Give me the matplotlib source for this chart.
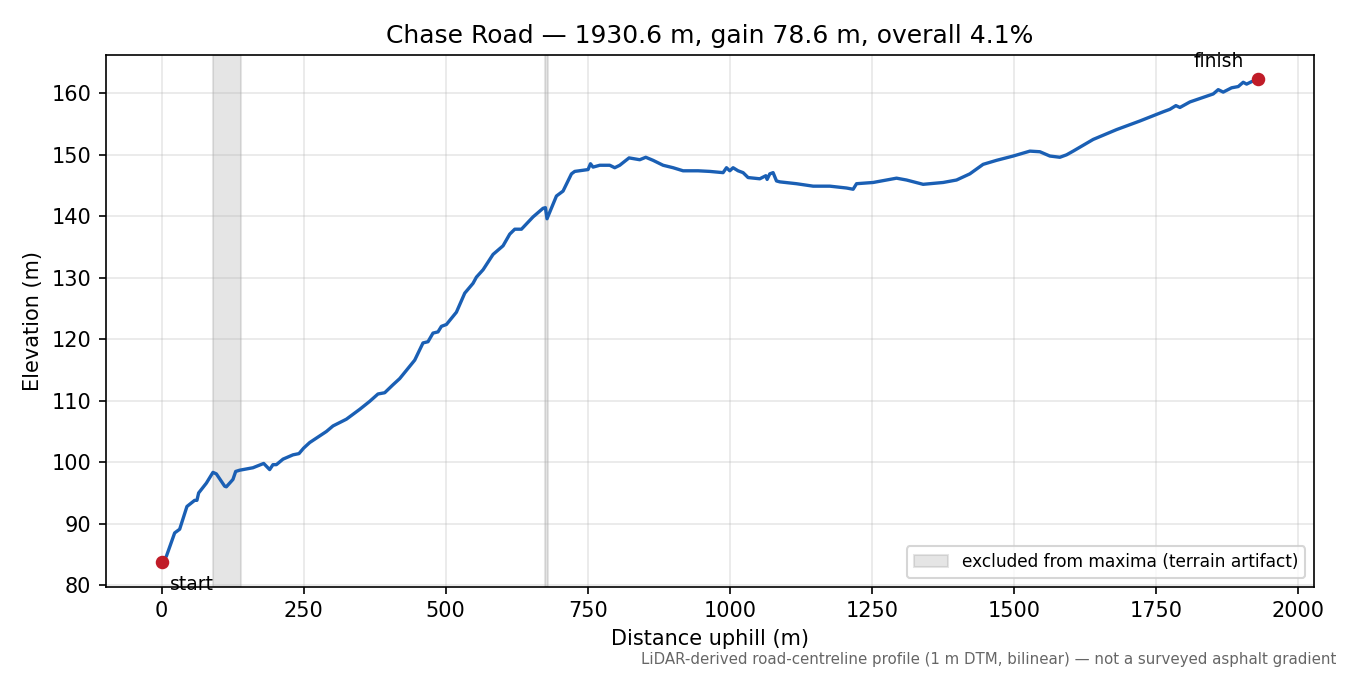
import matplotlib
matplotlib.use("Agg")
import matplotlib.pyplot as plt
import numpy as np

# profile (distance m, elevation m)
dist = [0, 8.3, 22.9, 31.7, 44.5, 58.1, 62.1, 65.1, 78.7, 90.3, 96.3, 110.9, 113.9,
        125.5, 130.3, 137.3, 160.7, 179.6, 190.1, 195.9, 201.9, 213.6, 231.2, 241.7,
        250.0, 260.6, 275.2, 290.0, 301.6, 325.2, 348.6, 366.2, 380.8, 392.6, 407.2,
        419.0, 445.4, 460.0, 468.8, 477.6, 486.4, 492.4, 501.2, 518.8, 533.5, 548.1,
        554.0, 565.7, 583.3, 600.9, 612.7, 621.5, 633.3, 653.7, 671.3, 675.5, 678.3,
        694.9, 706.5, 721.3, 727.1, 750.5, 754.8, 759.3, 771.1, 788.7, 797.5, 806.3,
        822.7, 841.5, 852.1, 865.0, 882.6, 900.2, 917.8, 944.2, 964.8, 988.2, 994.2,
        1000.0, 1005.8, 1014.6, 1023.4, 1032.2, 1052.8, 1063.4, 1065.7, 1070.4, 1076.2,
        1082.2, 1088.0, 1117.4, 1146.7, 1176.1, 1205.5, 1217.1, 1223.1, 1252.3, 1293.5,
        1311.1, 1340.3, 1375.5, 1399.1, 1422.5, 1445.9, 1469.5, 1498.8, 1528.2, 1545.8,
        1563.4, 1581.0, 1592.8, 1604.4, 1639.6, 1680.8, 1721.8, 1762.9, 1774.6, 1785.2,
        1792.3, 1809.9, 1850.9, 1859.7, 1868.5, 1883.3, 1894.9, 1903.7, 1909.7, 1918.5,
        1930.6]
elev = [83.7, 84.7, 88.5, 89.1, 92.8, 93.8, 93.8, 95.0, 96.6, 98.35, 98.1, 96.1, 96.0,
        97.2, 98.5, 98.7, 99.1, 99.8, 98.8, 99.6, 99.6, 100.5, 101.2, 101.4,
        102.3, 103.2, 104.1, 105.0, 105.9, 107.0, 108.6, 109.9, 111.1, 111.3, 112.6,
        113.6, 116.6, 119.4, 119.6, 121.0, 121.2, 122.1, 122.4, 124.4, 127.5, 129.1,
        130.1, 131.3, 133.8, 135.2, 137.1, 137.9, 137.9, 139.9, 141.3, 141.4, 139.6,
        143.3, 144.1, 146.9, 147.3, 147.6, 148.55, 148.0, 148.3, 148.3, 147.9, 148.3,
        149.5, 149.2, 149.6, 149.1, 148.3, 147.9, 147.4, 147.4, 147.3, 147.1, 147.9,
        147.4, 147.9, 147.4, 147.1, 146.3, 146.1, 146.6, 146.0, 146.9, 147.1,
        145.75, 145.6, 145.3, 144.9, 144.9, 144.6, 144.4, 145.3, 145.5, 146.2,
        145.9, 145.2, 145.5, 145.9, 146.9, 148.45, 149.1, 149.8, 150.6, 150.5,
        149.8, 149.6, 150.0, 150.6, 152.5, 154.1, 155.5, 157.0, 157.4, 158.0,
        157.7, 158.6, 159.9, 160.6, 160.2, 160.9, 161.1, 161.8, 161.5, 161.9,
        162.25]

excluded = [(90, 139), (675, 680)]
title = "Chase Road — 1930.6 m, gain 78.6 m, overall 4.1%"
note = "LiDAR-derived road-centreline profile (1 m DTM, bilinear) — not a surveyed asphalt gradient"

fig, ax = plt.subplots(figsize=(9, 4.5), dpi=150)
fig.subplots_adjust(left=0.0785, right=0.973, top=0.918, bottom=0.131)

for i, (a, b) in enumerate(excluded):
    ax.axvspan(a, b, color="0.5", alpha=0.2,
               label="excluded from maxima (terrain artifact)" if i == 0 else None)

ax.plot(dist, elev, color="#1a5fb4", lw=1.6)
ax.scatter([dist[0], dist[-1]], [elev[0], elev[-1]], color="#c01c28", s=30, zorder=5)
ax.annotate("start", (dist[0], elev[0]), xytext=(4, -6), textcoords="offset points",
            ha="left", va="top", fontsize=9)
ax.annotate("finish", (dist[-1], elev[-1]), xytext=(-7, 4), textcoords="offset points",
            ha="right", va="bottom", fontsize=9)

ax.set_xlim(-98, 2027.5)
ax.set_xlabel("Distance uphill (m)")
ax.set_ylabel("Elevation (m)")
ax.set_title(title)
ax.grid(True, alpha=0.3)
ax.legend(loc="lower right", fontsize=8.2)

fig.text(0.99, 0.012, note, ha="right", va="bottom", fontsize=7.2, color="0.4")
fig.savefig("out.png")
